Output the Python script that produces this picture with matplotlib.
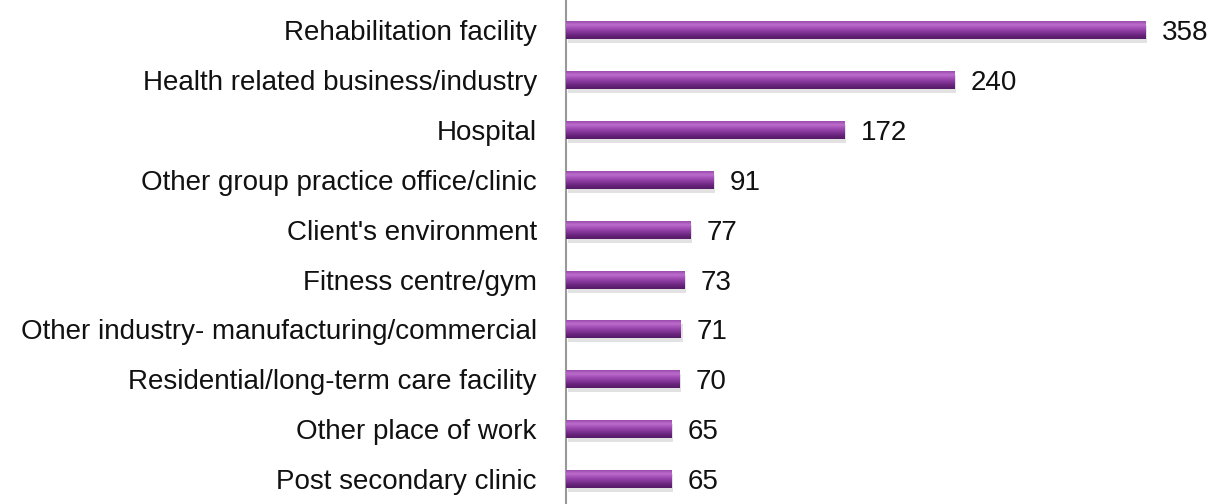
import numpy as np
import matplotlib.pyplot as plt
from matplotlib.colors import LinearSegmentedColormap

categories = [
    'Rehabilitation facility',
    'Health related business/industry',
    'Hospital',
    'Other group practice office/clinic',
    "Client's environment",
    'Fitness centre/gym',
    'Other industry- manufacturing/commercial',
    'Residential/long-term care facility',
    'Other place of work',
    'Post secondary clinic',
]
counts = [358, 240, 172, 91, 77, 73, 71, 70, 65, 65]

plt.rcParams['font.family'] = ['Liberation Sans', 'DejaVu Sans']

fig = plt.figure(figsize=(12.23, 5.04), dpi=100)
ax = fig.add_axes([566 / 1223, 0, 1 - 566 / 1223, 1])

y = np.arange(len(categories))
h = 0.36
bars = ax.barh(y, counts, height=h, color='#7d2f8e', zorder=2)

# vertical gradient for a shiny bar look
cmap = LinearSegmentedColormap.from_list(
    'bar', ['#9a48ad', '#bd6fcd', '#a04cb4', '#86389a', '#68237c', '#541b66'])
grad = np.linspace(0, 1, 64).reshape(-1, 1)
for b in bars:
    x0, y0 = b.get_x(), b.get_y()
    w, hh = b.get_width(), b.get_height()
    # soft shadow under bar
    ax.barh(y0 + hh / 2 + 0.08, w, height=hh, left=x0 + 1,
            color='#d0d0d0', alpha=0.6, zorder=1)
    ax.imshow(grad, cmap=cmap, aspect='auto', zorder=3,
              extent=(x0, x0 + w, y0 + hh, y0), interpolation='bicubic')

for yi, v in zip(y, counts):
    ax.text(v + 10, yi, str(v), va='center_baseline', ha='left',
            fontsize=20, color='#111111')

ax.set_xlim(0, 406)
ax.set_ylim(len(categories) - 0.5, -0.605)
ax.set_yticks(y)
ax.set_yticklabels(categories, fontsize=20, color='#111111', va='center_baseline')
ax.tick_params(axis='y', length=0, pad=21)
ax.set_xticks([])

for s in ['top', 'right', 'bottom']:
    ax.spines[s].set_visible(False)
ax.spines['left'].set_color('#999999')
ax.spines['left'].set_linewidth(1.5)

fig.savefig('out.png', dpi=100)
